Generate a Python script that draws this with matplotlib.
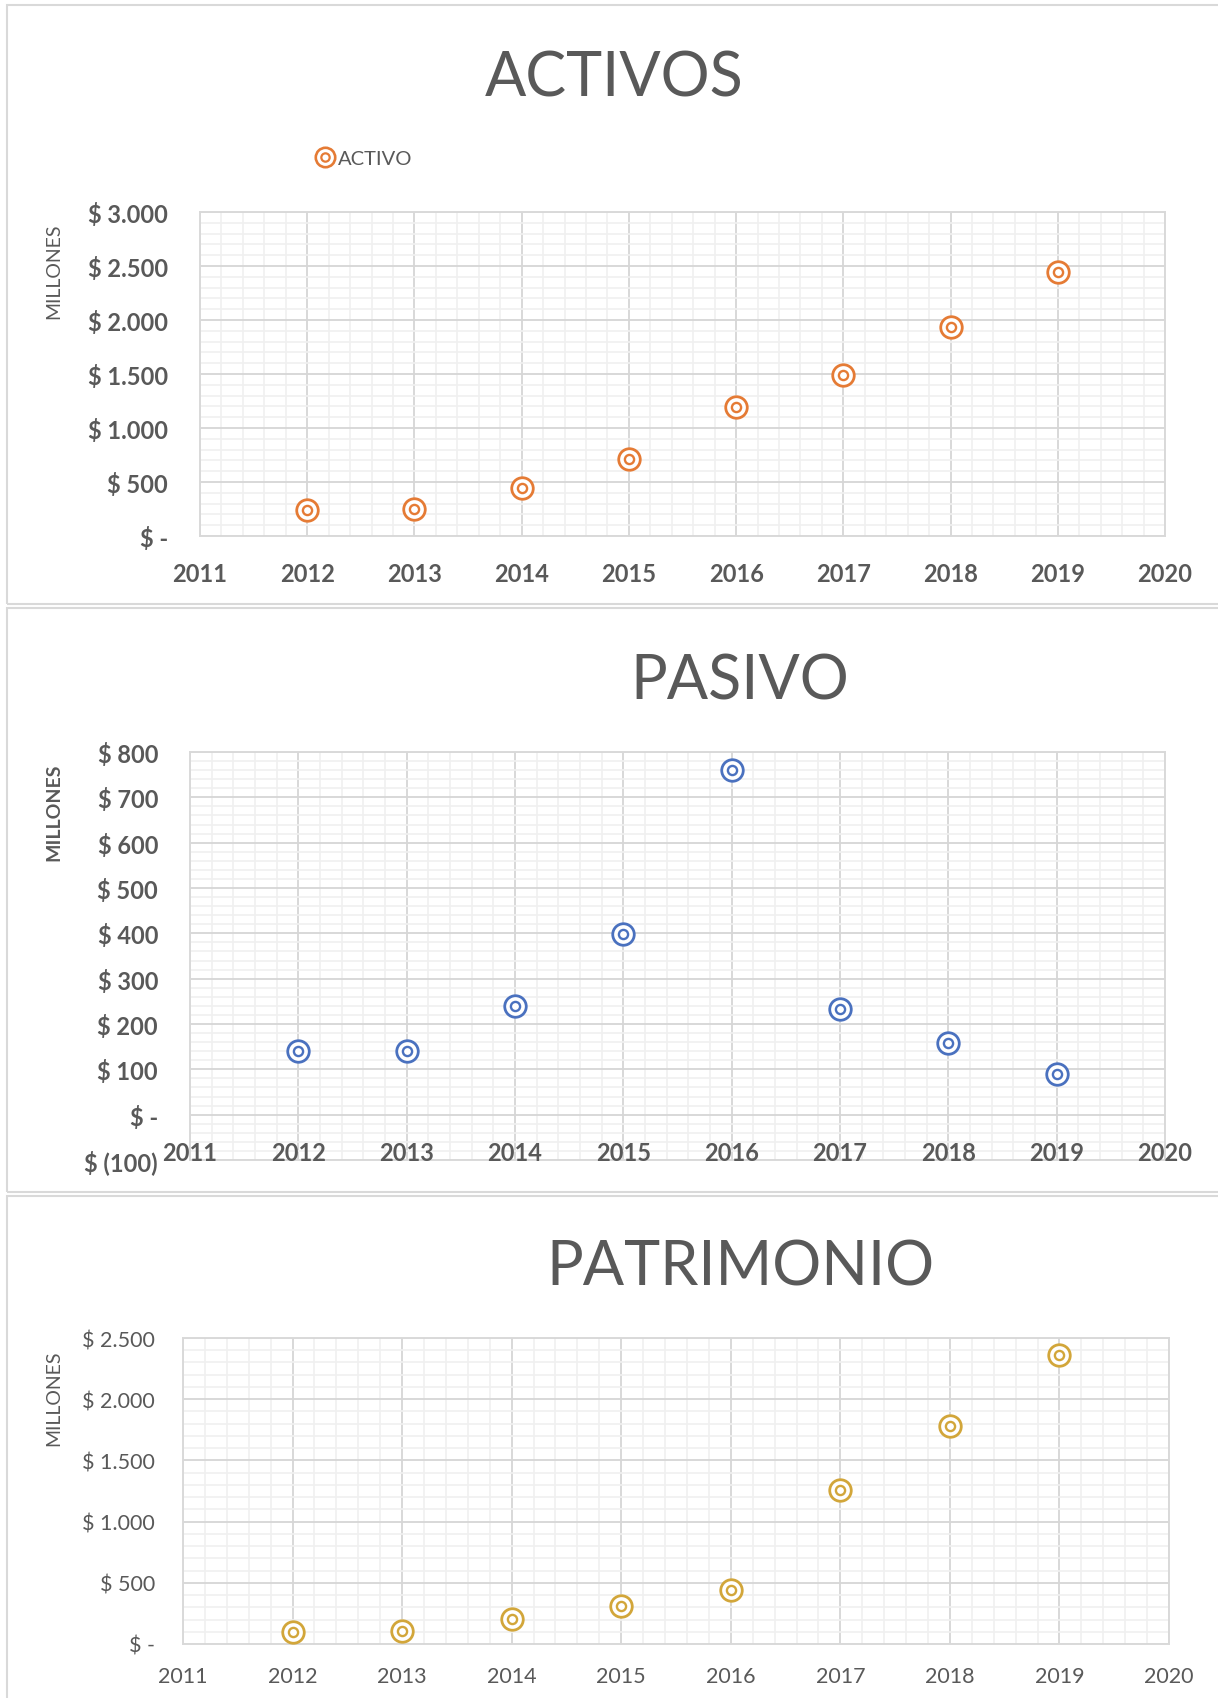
import matplotlib
matplotlib.use("Agg")
import matplotlib.pyplot as plt
from matplotlib.lines import Line2D
from matplotlib.ticker import MultipleLocator, FuncFormatter
from matplotlib.patches import Rectangle

# datos (millones)
years = [2012, 2013, 2014, 2015, 2016, 2017, 2018, 2019]
activo = [242, 252, 443, 713, 1199, 1491, 1934, 2446]
pasivo = [141, 140, 240, 398, 761, 232, 157, 89]
patrimonio = [98, 110, 205, 314, 442, 1258, 1777, 2361]
xticks = list(range(2011, 2021))

titles = ["ACTIVOS", "PASIVO", "PATRIMONIO"]
colors = ["#E57B35", "#4A71BF", "#D2A63A"]

W, H = 1218, 1699
GRAY = "#595959"
plt.rcParams['font.family'] = ['Lato', 'DejaVu Sans']


def money(v, pos=None):
    if abs(v) < 1e-9:
        return "$ -"
    if v < 0:
        return "$ ({:,.0f})".format(-v).replace(",", ".")
    return "$ {:,.0f}".format(v).replace(",", ".")


def box(x0, y0, x1, y1):
    # pixeles -> fraccion de figura
    return [x0 / W, 1 - y1 / H, (x1 - x0) / W, (y1 - y0) / H]


def draw(ax, vals, color, ymin, ymax, ymaj, bold, xpad, ypad):
    ax.set_xlim(2011, 2020)
    ax.set_ylim(ymin, ymax)
    ax.set_xticks(xticks)
    ax.xaxis.set_minor_locator(MultipleLocator(0.2))
    ax.yaxis.set_major_locator(MultipleLocator(ymaj))
    ax.yaxis.set_minor_locator(MultipleLocator(ymaj / 5))
    ax.yaxis.set_major_formatter(FuncFormatter(money))
    ax.grid(which="minor", color="#f0f0f0", lw=1.2, zorder=0)
    ax.grid(which="major", color="#d6d6d6", lw=1.3, zorder=0)
    ax.set_axisbelow(True)
    for s in ax.spines.values():
        s.set_color("#d9d9d9")
        s.set_linewidth(1.4)
        s.set_zorder(1)
    w = "bold" if bold else "normal"
    fs = 17 if bold else 15.5
    ax.tick_params(which="both", length=0)
    ax.tick_params(axis="y", pad=ypad, labelsize=fs, labelcolor=GRAY)
    if xpad is None:
        # etiquetas del eje x sobre el borde inferior (grafico PASIVO)
        ax.tick_params(axis="x", labelbottom=False)
        for yr in xticks:
            ax.text(yr, 0, str(yr), transform=ax.get_xaxis_transform(), ha="center",
                    va="baseline", fontsize=fs, color=GRAY, fontweight=w, zorder=6)
    else:
        ax.tick_params(axis="x", pad=xpad, labelsize=fs, labelcolor=GRAY)
    for t in ax.get_xticklabels() + ax.get_yticklabels():
        t.set_fontweight(w)
    ax.scatter(years, vals, s=15.5 ** 2, facecolor="white", edgecolor=color,
               linewidth=2.0, zorder=3, clip_on=False)
    ax.scatter(years, vals, s=6.6 ** 2, facecolor="white", edgecolor=color,
               linewidth=1.7, zorder=4, clip_on=False)


fig = plt.figure(figsize=(W / 100, H / 100), dpi=100)

# marcos de cada grafico
for y0, y1 in [(6, 605), (609, 1193), (1197, 1710)]:
    fig.patches.append(Rectangle((7 / W, 1 - y1 / H), 1.2, (y1 - y0) / H,
                                 transform=fig.transFigure, fill=False,
                                 edgecolor="#d9d9d9", lw=1.5))

ax1 = fig.add_axes(box(200, 213, 1165, 537))
draw(ax1, activo, colors[0], 0, 3000, 500, True, 19, 23)
ax2 = fig.add_axes(box(190, 753, 1165, 1161))
draw(ax2, pasivo, colors[1], -100, 800, 100, True, None, 23)
ax3 = fig.add_axes(box(183, 1339, 1169, 1645))
draw(ax3, patrimonio, colors[2], 0, 2500, 500, False, 16, 20)

# titulos
fig.text(614 / W, 1 - 79 / H, titles[0], fontsize=44, color=GRAY, ha="center", va="center")
fig.text(740 / W, 1 - 682 / H, titles[1], fontsize=44, color=GRAY, ha="center", va="center")
fig.text(740 / W, 1 - 1268 / H, titles[2], fontsize=44, color=GRAY, ha="center", va="center")

# MILLONES
fig.text(54 / W, 1 - 271 / H, "MILLONES", rotation=90, fontsize=14, color=GRAY, ha="center", va="center")
fig.text(54 / W, 1 - 812 / H, "MILLONES", rotation=90, fontsize=14, color=GRAY,
         ha="center", va="center", fontweight="bold")
fig.text(54 / W, 1 - 1398 / H, "MILLONES", rotation=90, fontsize=14, color=GRAY, ha="center", va="center")

# leyenda
h1 = Line2D([], [], ls="none", marker="o", ms=14, mfc="white", mec=colors[0], mew=1.9)
h2 = Line2D([], [], ls="none", marker="o", ms=6, mfc="white", mec=colors[0], mew=1.6)
fig.legend([(h1, h2)], ["ACTIVO"], loc="center left", bbox_to_anchor=(305 / W, 1 - 159 / H),
           frameon=False, handlelength=1.0, handletextpad=0.15, borderpad=0,
           fontsize=14.5, labelcolor=GRAY)

fig.savefig("out.png", dpi=100)
